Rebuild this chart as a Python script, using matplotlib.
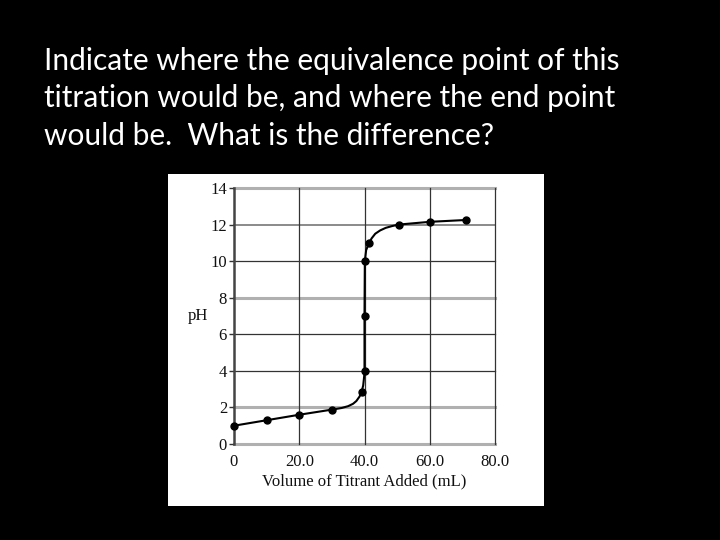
import matplotlib
matplotlib.use("Agg")
import matplotlib.pyplot as plt
from matplotlib.patches import Rectangle

# ---- data ----
title_lines = [
    "Indicate where the equivalence point of this",
    "titration would be, and where the end point",
    "would be.  What is the difference?",
]
# measured points (mL, pH)
vol_pts = [0, 10, 20, 30, 39.1, 40, 40, 40.1, 41.4, 50.5, 60, 71]
ph_pts = [1.0, 1.3, 1.6, 1.88, 2.85, 4.0, 7.0, 10.0, 11.0, 12.0, 12.15, 12.25]
# trace of the drawn curve (mL, pH)
curve_vol = [0, 10, 20, 30, 33, 35, 36.5, 37.5, 38.5, 39.1, 39.6, 39.9, 40.0,
             40.0, 40.1, 40.5, 41.4, 42.2, 43.3, 44.8, 46.5, 48.5, 50.5, 60, 71]
curve_ph = [1.0, 1.3, 1.6, 1.88, 1.97, 2.07, 2.2, 2.35, 2.6, 2.85, 3.2, 3.7, 4.0,
            7.0, 10.0, 10.6, 11.0, 11.25, 11.5, 11.68, 11.82, 11.92, 12.0, 12.15, 12.25]
x_ticks = [0, 20, 40, 60, 80]
x_tick_labels = ["0", "20.0", "40.0", "60.0", "80.0"]
y_ticks = [0, 2, 4, 6, 8, 10, 12, 14]
y_tick_labels = ["0", "2", "4", "6", "8", "10", "12", "14"]
gray_rows = [0, 2, 8, 14]
x_label = "Volume of Titrant Added (mL)"
y_label = "pH"

fig = plt.figure(figsize=(7.2, 5.4), dpi=100, facecolor="black")

# white panel holding the chart
fig.patches.append(Rectangle((168 / 720, 1 - 506 / 540), 376 / 720, 332 / 540,
                             transform=fig.transFigure, facecolor="white",
                             edgecolor="none", zorder=-5))

# slide text
baselines = [69.5, 107.5, 145.5]
for line, b in zip(title_lines, baselines):
    fig.text(44 / 720, 1 - b / 540, line, color="white", fontsize=21.5,
             family=["Lato", "DejaVu Sans"], va="baseline", ha="left")

ax = fig.add_axes([234 / 720, 1 - 444 / 540, 261 / 720, 256 / 540])
ax.set_zorder(2)
ax.set_facecolor("white")
ax.set_xlim(0, 80)
ax.set_ylim(0, 14)

for s in ["top", "right", "bottom"]:
    ax.spines[s].set_visible(False)
ax.spines["left"].set_color("#444444")
ax.spines["left"].set_linewidth(1.8)

# grid
for yv in y_ticks:
    if yv in gray_rows:
        ax.axhline(yv, color="#b0b0b0", lw=2.2, zorder=1, clip_on=False)
    elif yv == 12:
        ax.axhline(yv, color="#777777", lw=1.2, zorder=1, clip_on=False)
    else:
        ax.axhline(yv, color="#333333", lw=0.9, zorder=1, clip_on=False)
for xv in x_ticks[1:]:
    ax.axvline(xv, color="#333333", lw=0.9, zorder=1, clip_on=False)

ax.plot(curve_vol, curve_ph, color="black", lw=1.5, zorder=3,
        solid_joinstyle="round")
ax.plot(vol_pts, ph_pts, "o", color="black", markersize=5, zorder=4,
        clip_on=False)

serif = ["Liberation Serif", "DejaVu Serif"]
ax.set_xticks(x_ticks)
ax.set_xticklabels(x_tick_labels, family=serif, fontsize=12, color="#111111")
ax.set_yticks(y_ticks)
ax.set_yticklabels(y_tick_labels, family=serif, fontsize=12, color="#111111")
ax.tick_params(axis="x", length=0, pad=7)
ax.tick_params(axis="y", length=3.5, width=1, color="#333333", pad=1.5)

ax.set_xlabel(x_label, family=serif, fontsize=12, color="#111111", labelpad=3)
ax.set_ylabel(y_label, family=serif, fontsize=12, color="#111111", rotation=0,
              va="center", ha="center")
ax.yaxis.set_label_coords(-0.138, 0.5)

fig.savefig("out.png", dpi=100, facecolor="black")
